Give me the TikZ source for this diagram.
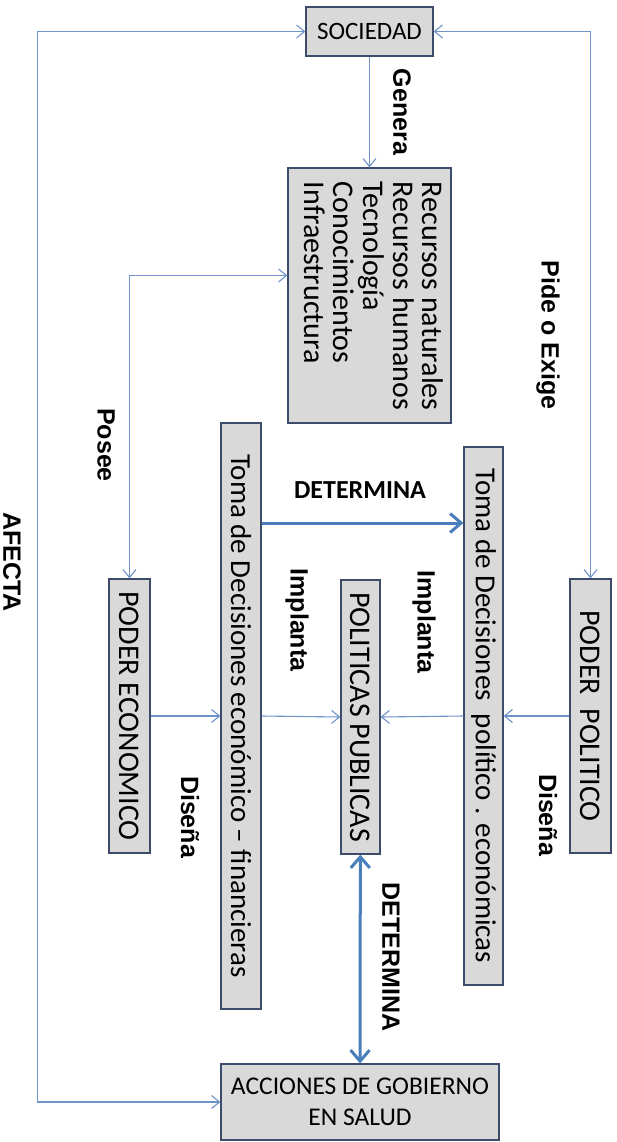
\documentclass[tikz,border=0pt]{standalone}
\usepackage{fontspec}
\setmainfont{Carlito}
\newfontfamily\labelfont{Liberation Sans Bold}
\usepackage{graphicx}
\usetikzlibrary{arrows.meta}
\definecolor{boxfill}{HTML}{D9D9D9}
\definecolor{boxline}{HTML}{3E4C6B}
\definecolor{linkblue}{HTML}{6F92C9}
\definecolor{detblue}{HTML}{4A7EBB}
\newcommand{\vtext}[1]{\rotatebox{-90}{#1}}

\begin{document}
\begin{tikzpicture}[x=1pt,y=-1pt,
 linktip/.tip={Straight Barb[length=8pt,width=13pt]},
 bigtip/.tip={Straight Barb[length=11pt,width=19pt]},
 box/.style={draw=boxline,fill=boxfill,line width=1.2pt,inner sep=0pt,
             align=center,font=\fontsize{30}{32}\selectfont},
 link/.style={draw=linkblue,line width=1.1pt,-linktip},
 bigarrow/.style={draw=detblue,line width=3pt,-bigtip},
 lbl/.style={font=\labelfont\fontsize{25}{28}\selectfont,rotate=-90,inner sep=0pt}]
 \useasboundingbox (0,0) rectangle (617,1142);
 % boxes
 \node[box,font=\fontsize{25}{30}\selectfont,minimum width=127pt,minimum height=49pt]
   (soc) at (369.5,31.5) {SOCIEDAD};
 \node[box,minimum width=163pt,minimum height=255pt] (res) at (369.5,295.5)
   {\vtext{\makebox[227pt][l]{\fontsize{30}{29.5}\selectfont
     \renewcommand{\arraystretch}{1}%
     \begin{tabular}{@{}l@{}}Recursos naturales\\Recursos humanos\\Tecnología\\
     Conocimientos\\Infraestructura\end{tabular}}}};
 \node[box,font=\fontsize{29}{32}\selectfont,minimum width=40pt,minimum height=586pt]
   (teco) at (241,716) {\vtext{Toma de Decisiones económico -- financieras}};
 \node[box,font=\fontsize{29}{32}\selectfont,minimum width=39pt,minimum height=538pt]
   (tpol) at (483.5,716) {\vtext{Toma de Decisiones~ político . económicas}};
 \node[box,minimum width=41pt,minimum height=274pt] (peco) at (129.5,716)
   {\vtext{PODER ECONOMICO}};
 \node[box,minimum width=41pt,minimum height=274pt] (ppol) at (590.5,716)
   {\vtext{PODER~~POLITICO}};
 \node[box,minimum width=39pt,minimum height=274pt] (pol) at (360.5,717)
   {\vtext{POLITICAS PUBLICAS}};
 \node[box,font=\fontsize{25.5}{31}\selectfont,minimum width=278pt,minimum height=76pt]
   (acc) at (360,1102) {ACCIONES DE GOBIERNO\\EN SALUD};
 % connectors
 \coordinate (det) at (0,523);
 \draw[link,linktip-linktip] (soc.west) -- ++(-268,0) |- (acc.west);
 \draw[link,linktip-linktip] (soc.east) -| (ppol.north);
 \draw[link] (soc) -- (res);
 \draw[link,linktip-linktip] ([yshift=20pt]res.west) -| (peco.north);
 \draw[link] (peco.east |- teco.west) -- (teco.west);
 \draw[link] (teco.east) -- (pol.west);
 \draw[link] (ppol.west |- tpol.east) -- (tpol.east);
 \draw[link] (tpol.west) -- (pol.east);
 \draw[bigarrow] (teco.east |- det) -- (tpol.west |- det);
 \draw[bigarrow,bigtip-bigtip] (pol) -- (acc);
 % labels
 \node[lbl] (genera) at (402,112) {Genera};
 \node[lbl] (pide) at (548,335) {Pide o Exige};
 \node[lbl] (posee) at (106,445) {Posee};
 \node[lbl] (afecta) at (12,562) {AFECTA};
 \node[lbl] (implL) at (297,620) {Implanta};
 \node[lbl] (implR) at (424,622) {Implanta};
 \node[lbl] (disL) at (190,817) {Diseña};
 \node[lbl] (disR) at (548,815) {Diseña};
 \node[lbl] (detV) at (391,957) {DETERMINA};
 \node[font=\bfseries\fontsize{26}{30}\selectfont,inner sep=0pt] (detH) at (360,490) {DETERMINA};
\end{tikzpicture}
\end{document}
